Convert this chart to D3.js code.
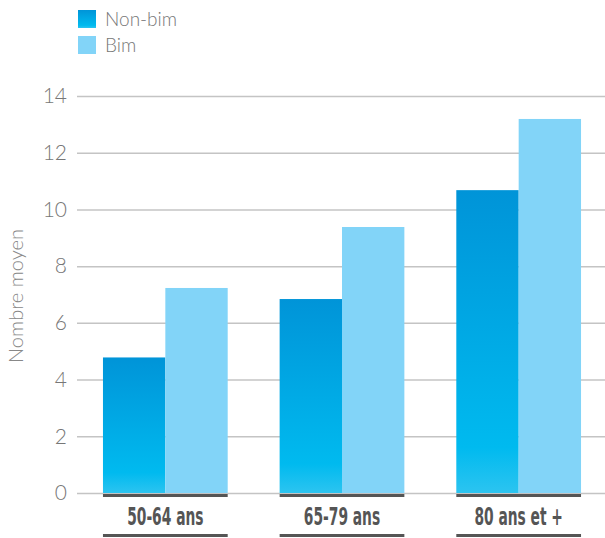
<!DOCTYPE html>
<html><head><meta charset="utf-8">
<script src="https://cdn.jsdelivr.net/npm/d3@7"></script>
<style>
body{margin:0;background:#fff;}
svg{display:block;}
</style></head>
<body>
<svg id="chart" width="605" height="538"></svg>
<script>
const categories = ["50-64 ans", "65-79 ans", "80 ans et +"];
const seriesNames = ["Non-bim", "Bim"];
const nonBim = [4.78, 6.84, 10.68];
const bim = [7.23, 9.38, 13.19];
const yTicks = [0, 2, 4, 6, 8, 10, 12, 14];
const yTitle = "Nombre moyen";

const svg = d3.select("#chart");
const lightFont = "Lato, 'Open Sans', sans-serif";

const defs = svg.append("defs");
const grad = defs.append("linearGradient").attr("id","gNon").attr("x1",0).attr("y1",0).attr("x2",0).attr("y2",1);
grad.append("stop").attr("offset","0%").attr("stop-color","#0094d8");
grad.append("stop").attr("offset","85%").attr("stop-color","#00baef");
grad.append("stop").attr("offset","100%").attr("stop-color","#2cc4f0");
const colors = ["url(#gNon)", "#82d4f8"];

const y = d3.scaleLinear().domain([0,14]).range([493, 96]);
const x = d3.scaleBand().domain(categories).range([77, 607]).paddingInner(0.294).paddingOuter(0.147);
const xs = d3.scaleBand().domain(seriesNames).range([0, x.bandwidth()]);

// gridlines + tick labels via axis
const yAxis = d3.axisLeft(y).tickValues(yTicks).tickSize(-(605-77)).tickPadding(10);
const gy = svg.append("g").attr("transform","translate(77,0)").call(yAxis);
gy.select(".domain").remove();
gy.selectAll(".tick line").attr("stroke","#c4c4c4").attr("stroke-width",1.5);
gy.selectAll(".tick text").attr("fill","#777").style("font-family",lightFont).style("font-weight",300).style("font-size","21px");

// y title
svg.append("text").attr("transform","translate(23,296) rotate(-90)").attr("text-anchor","middle")
  .attr("fill","#888").style("font-family",lightFont).style("font-weight",300).style("font-size","20px")
  .attr("textLength",134).attr("lengthAdjust","spacing").text(yTitle);

// bars
const data = categories.map((c,i)=>({cat:c, vals:[nonBim[i], bim[i]]}));
const groups = svg.append("g").selectAll("g").data(data).join("g").attr("transform",d=>`translate(${x(d.cat)},0)`);
groups.selectAll("rect.bar").data(d=>d.vals.map((v,j)=>({v, s:seriesNames[j], j}))).join("rect")
  .attr("class","bar").attr("x",d=>xs(d.s)).attr("width",xs.bandwidth())
  .attr("y",d=>y(d.v)).attr("height",d=>y(0)-y(d.v)).attr("fill",d=>colors[d.j]);
groups.append("rect").attr("x",0).attr("y",494).attr("width",x.bandwidth()).attr("height",3).attr("fill","#555");
groups.append("rect").attr("x",0).attr("y",534).attr("width",x.bandwidth()).attr("height",3).attr("fill","#555");
groups.append("text").attr("transform",`translate(${x.bandwidth()/2},525) scale(0.64,1)`).attr("text-anchor","middle")
  .attr("fill","#555").style("font-family","'DejaVu Sans Condensed','DejaVu Sans',sans-serif")
  .style("font-weight","bold").style("font-size","24px").text(d=>d.cat);

// legend
const leg = svg.append("g").selectAll("g").data(seriesNames).join("g").attr("transform",(d,i)=>`translate(78,${10+i*26})`);
leg.append("rect").attr("width",18).attr("height",18).attr("fill",(d,i)=>colors[i]);
leg.append("text").attr("x",27).attr("y",16).attr("fill","#777").style("font-family",lightFont).style("font-weight",300).style("font-size","19px").text(d=>d);
</script>
</body></html>
